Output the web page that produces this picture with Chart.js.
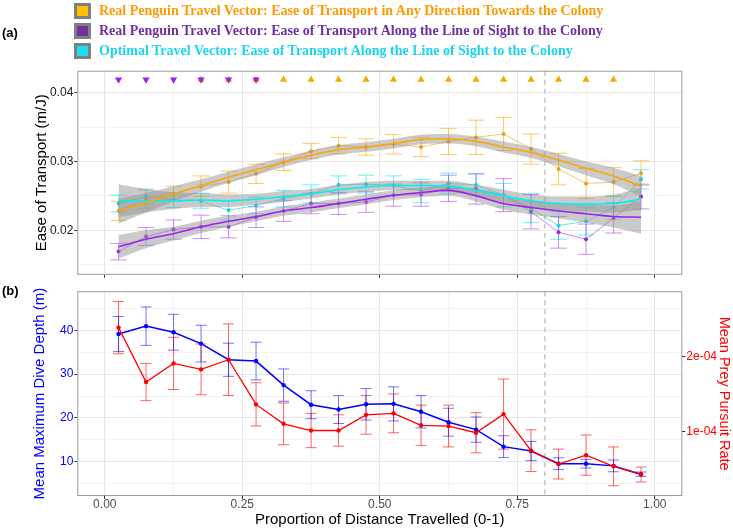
<!DOCTYPE html>
<html>
<head>
<meta charset="utf-8">
<script src="https://cdn.jsdelivr.net/npm/chart.js@4.4.1/dist/chart.umd.min.js"></script>
<style>
  body { margin: 0; background: #fff; width: 733px; height: 529px; overflow: hidden; position: relative; font-family: 'Liberation Sans', Arial, sans-serif; }
  canvas { position: absolute; left: 0; }
  #topChart { top: 0; }
  #botChart { top: 283px; }
  .tag { position: absolute; left: 2px; font-weight: bold; font-size: 13px; color: #000; z-index: 2; }
  #legend { position: absolute; left: 74px; top: 1px; z-index: 2; }
  .lg-row { display: flex; align-items: center; height: 20px; }
  .lg-box { width: 11px; height: 10px; border: 3px solid #808080; margin-right: 8px; flex: none; }
  .lg-text { font-family: 'Liberation Serif', 'Times New Roman', serif; font-weight: bold; font-size: 14px; white-space: nowrap; }
</style>
</head>
<body>
<div class="tag" style="top:25px">(a)</div>
<div class="tag" style="top:283px">(b)</div>
<div id="legend">
  <div class="lg-row"><div class="lg-box" style="background:#FFC000"></div><span class="lg-text" style="color:#FF9A00">Real Penguin Travel Vector: Ease of Transport in Any Direction Towards the Colony</span></div>
  <div class="lg-row"><div class="lg-box" style="background:#7030A0"></div><span class="lg-text" style="color:#7030A0">Real Penguin Travel Vector: Ease of Transport Along the Line of Sight to the Colony</span></div>
  <div class="lg-row"><div class="lg-box" style="background:#1ADFF5"></div><span class="lg-text" style="color:#1AD4F0">Optimal Travel Vector: Ease of Transport Along the Line of Sight to the Colony</span></div>
</div>
<canvas id="topChart" width="733" height="283"></canvas>
<canvas id="botChart" width="733" height="246"></canvas>
<script>
// bins of proportion of distance travelled
const bins = [0.025, 0.075, 0.125, 0.175, 0.225, 0.275, 0.325, 0.375, 0.425, 0.475,
              0.525, 0.575, 0.625, 0.675, 0.725, 0.775, 0.825, 0.875, 0.925, 0.975];
const cutoff = 0.8;

// (a) ease of transport, any direction towards colony
const anyDir    = [0.0228, 0.0245, 0.0253, 0.0264, 0.0270, 0.0282, 0.0299, 0.0315, 0.0323, 0.0321,
                   0.0325, 0.0321, 0.0329, 0.0335, 0.0340, 0.0318, 0.0289, 0.0268, 0.0270, 0.0283];
const anyDirErr = [0.0014, 0.0013, 0.0011, 0.0015, 0.0016, 0.0014, 0.0012, 0.0011, 0.0012, 0.0012,
                   0.0014, 0.0014, 0.0019, 0.0025, 0.0024, 0.0022, 0.0023, 0.0022, 0.0021, 0.0018];
const anyDirFit = [0.0228, 0.0240, 0.0253, 0.0265, 0.0277, 0.0288, 0.0299, 0.0309, 0.0317, 0.0321,
                   0.0326, 0.0332, 0.0333, 0.0329, 0.0321, 0.0313, 0.0302, 0.0290, 0.0279, 0.0264];
const anyDirCI  = [0.0018, 0.0014, 0.0011, 0.0009, 0.0008, 0.0008, 0.0007, 0.0007, 0.0007, 0.0007,
                   0.0007, 0.0007, 0.0007, 0.0007, 0.0008, 0.0008, 0.0009, 0.0010, 0.0012, 0.0015];

// (a) real penguin, line of sight
const losReal    = [0.0169, 0.0191, 0.0201, 0.0205, 0.0205, 0.0219, 0.0228, 0.0239, 0.0239, 0.0241,
                    0.0251, 0.0252, 0.0261, 0.0260, 0.0251, 0.0227, 0.0197, 0.0187, 0.0218, 0.0249];
const losRealErr = [0.0012, 0.0013, 0.0014, 0.0017, 0.0016, 0.0015, 0.0015, 0.0015, 0.0016, 0.0015,
                    0.0016, 0.0017, 0.0019, 0.0022, 0.0024, 0.0025, 0.0023, 0.0022, 0.0022, 0.0018];
const losRealFit = [0.0176, 0.0187, 0.0195, 0.0205, 0.0213, 0.0220, 0.0228, 0.0233, 0.0239, 0.0245,
                    0.0251, 0.0255, 0.0258, 0.0250, 0.0239, 0.0233, 0.0228, 0.0224, 0.0220, 0.0219];
const losRealCI  = [0.0017, 0.0013, 0.0010, 0.0009, 0.0008, 0.0007, 0.0007, 0.0007, 0.0007, 0.0007,
                    0.0007, 0.0007, 0.0008, 0.0008, 0.0009, 0.0010, 0.0011, 0.0013, 0.0016, 0.0024];

// (a) optimal vector, line of sight
const losOpt    = [0.0239, 0.0249, 0.0244, 0.0243, 0.0229, 0.0236, 0.0246, 0.0253, 0.0266, 0.0267,
                   0.0265, 0.0257, 0.0268, 0.0266, 0.0251, 0.0232, 0.0207, 0.0213, 0.0233, 0.0274];
const losOptErr = [0.0012, 0.0011, 0.0011, 0.0011, 0.0014, 0.0012, 0.0012, 0.0013, 0.0013, 0.0013,
                   0.0014, 0.0017, 0.0015, 0.0016, 0.0017, 0.0021, 0.0020, 0.0020, 0.0017, 0.0014];
const losOptFit = [0.0243, 0.0243, 0.0243, 0.0244, 0.0243, 0.0245, 0.0249, 0.0253, 0.0259, 0.0263,
                   0.0265, 0.0265, 0.0264, 0.0258, 0.0250, 0.0243, 0.0239, 0.0238, 0.0239, 0.0245];
const losOptCI  = [0.0024, 0.0017, 0.0012, 0.0010, 0.0009, 0.0008, 0.0008, 0.0007, 0.0007, 0.0007,
                   0.0007, 0.0007, 0.0008, 0.0008, 0.0009, 0.0009, 0.0010, 0.0011, 0.0013, 0.0016];

// significance markers along the top
const markLevel = 0.0419;
const towardsMarks = [0.175, 0.225, 0.275, 0.325, 0.375, 0.425, 0.475, 0.525, 0.575, 0.625,
                      0.675, 0.725, 0.775, 0.825, 0.875, 0.925];
const losMarks = [0.025, 0.075, 0.125, 0.175, 0.225, 0.275];

// (b) dive depth and prey pursuit
const diveDepth = [39.2, 41.0, 39.6, 37.0, 33.3, 33.0, 27.5, 23.0, 21.9, 23.1,
                   23.2, 21.4, 19.0, 17.3, 13.4, 12.4, 9.5, 9.5, 9.0, 7.1];
const diveErr   = [4.0, 4.4, 4.1, 4.2, 3.8, 4.3, 3.7, 3.2, 3.2, 3.6,
                   3.9, 3.7, 3.2, 2.9, 2.5, 2.2, 1.35, 1.0, 1.35, 0.5];
const preyRate  = [2.39e-4, 1.66e-4, 1.91e-4, 1.83e-4, 1.96e-4, 1.36e-4, 1.10e-4, 1.01e-4, 1.01e-4, 1.22e-4,
                   1.24e-4, 1.08e-4, 1.07e-4, 0.98e-4, 1.23e-4, 0.74e-4, 0.56e-4, 0.68e-4, 0.53e-4, 0.42e-4];
const preyErr   = [0.35e-4, 0.25e-4, 0.35e-4, 0.34e-4, 0.48e-4, 0.29e-4, 0.28e-4, 0.23e-4, 0.21e-4, 0.26e-4,
                   0.26e-4, 0.27e-4, 0.28e-4, 0.27e-4, 0.47e-4, 0.28e-4, 0.20e-4, 0.27e-4, 0.26e-4, 0.10e-4];

const xTicks = [0, 0.125, 0.25, 0.375, 0.5, 0.625, 0.75, 0.875, 1.0];
const yTopTicks = [0.015, 0.02, 0.025, 0.03, 0.035, 0.04];
const yDiveTicks = [5, 10, 15, 20, 25, 30, 35, 40, 45];
const yPreyTicks = [1e-4, 2e-4];

Chart.defaults.font.family = "'Liberation Sans', Arial, sans-serif";

const pts = (xs, ys) => xs.map((x, i) => ({x: x, y: ys[i]}));
const flat = (xs, v) => xs.map(x => ({x: x, y: v}));
const isMajorX = v => Math.abs(v * 4 - Math.round(v * 4)) < 1e-6;
const isMajorTop = v => Math.abs(v * 100 - Math.round(v * 100)) < 1e-6;
const gridCol = major => major ? '#E6E6E6' : '#F3F3F3';

// cut-off line, error bars and panel border
const panelExtras = {
    id: 'panelExtras',
    beforeDatasetsDraw(chart, args, opts) {
        const {ctx, chartArea: a, scales} = chart;
        const xs = scales.x;
        ctx.save();
        chart.data.datasets.forEach((ds, i) => {
            if (!ds.errors) return;
            const ys = scales[chart.getDatasetMeta(i).yAxisID];
            ctx.strokeStyle = ds.errorColor;
            ctx.lineWidth = 1;
            ds.data.forEach((p, j) => {
                const x = xs.getPixelForValue(p.x);
                const x0 = xs.getPixelForValue(p.x - opts.capWidth / 2);
                const x1 = xs.getPixelForValue(p.x + opts.capWidth / 2);
                const hi = ys.getPixelForValue(p.y + ds.errors[j]);
                const lo = ys.getPixelForValue(p.y - ds.errors[j]);
                ctx.beginPath();
                ctx.moveTo(x, hi); ctx.lineTo(x, lo);
                ctx.moveTo(x0, hi); ctx.lineTo(x1, hi);
                ctx.moveTo(x0, lo); ctx.lineTo(x1, lo);
                ctx.stroke();
            });
        });
        const px = xs.getPixelForValue(opts.cutoff);
        ctx.strokeStyle = '#CCCCCC';
        ctx.lineWidth = 1.8;
        ctx.setLineDash([5, 4]);
        ctx.beginPath();
        ctx.moveTo(px, a.top); ctx.lineTo(px, a.bottom);
        ctx.stroke();
        ctx.restore();
    },
    afterDraw(chart) {
        const {ctx, chartArea: a} = chart;
        ctx.save();
        ctx.strokeStyle = '#9A9A9A';
        ctx.lineWidth = 1;
        ctx.strokeRect(a.left + 0.5, a.top + 0.5, a.right - a.left - 1, a.bottom - a.top - 1);
        ctx.restore();
    }
};

const xScale = (showLabels, h) => ({
    type: 'linear', min: -0.05, max: 1.05,
    afterBuildTicks: s => { s.ticks = xTicks.map(v => ({value: v})); },
    afterFit: s => { s.height = h; },
    border: {display: false},
    grid: {
        color: c => gridCol(isMajorX(c.tick.value)),
        tickColor: c => isMajorX(c.tick.value) ? '#333' : 'rgba(0,0,0,0)',
        tickLength: 3
    },
    ticks: {
        display: showLabels, color: '#4D4D4D', font: {size: 12}, padding: -2, maxRotation: 0,
        callback: v => isMajorX(v) ? v.toFixed(2) : ''
    },
    title: {display: showLabels, text: 'Proportion of Distance Travelled (0-1)', color: '#000',
            font: {size: 15}, padding: {top: 0, bottom: 0}}
});

const band = (fit, ci, sign) => pts(bins, fit.map((v, i) => v + sign * ci[i]));
const bandGrey = 'rgba(150,150,150,0.5)';

// (a) top panel
new Chart(document.getElementById('topChart'), {
    type: 'line',
    data: {
        datasets: [
            {data: flat(losMarks, markLevel), showLine: false, pointStyle: 'triangle', pointRotation: 180,
             pointRadius: 4.2, pointBackgroundColor: '#A020F0', pointBorderWidth: 0},
            {data: flat(towardsMarks, markLevel), showLine: false, pointStyle: 'triangle',
             pointRadius: 4.2, pointBackgroundColor: '#FFA500', pointBorderWidth: 0},

            {data: pts(bins, anyDirFit), borderColor: '#FFA500', borderWidth: 1.6, pointRadius: 0, cubicInterpolationMode: 'monotone'},
            {data: pts(bins, losOptFit), borderColor: '#00F0F0', borderWidth: 1.6, pointRadius: 0, cubicInterpolationMode: 'monotone'},
            {data: pts(bins, losRealFit), borderColor: '#A020F0', borderWidth: 1.6, pointRadius: 0, cubicInterpolationMode: 'monotone'},

            {data: band(anyDirFit, anyDirCI, 1), borderWidth: 0, pointRadius: 0, fill: false, cubicInterpolationMode: 'monotone'},
            {data: band(anyDirFit, anyDirCI, -1), borderWidth: 0, pointRadius: 0, fill: '-1', backgroundColor: bandGrey, cubicInterpolationMode: 'monotone'},
            {data: band(losOptFit, losOptCI, 1), borderWidth: 0, pointRadius: 0, fill: false, cubicInterpolationMode: 'monotone'},
            {data: band(losOptFit, losOptCI, -1), borderWidth: 0, pointRadius: 0, fill: '-1', backgroundColor: bandGrey, cubicInterpolationMode: 'monotone'},
            {data: band(losRealFit, losRealCI, 1), borderWidth: 0, pointRadius: 0, fill: false, cubicInterpolationMode: 'monotone'},
            {data: band(losRealFit, losRealCI, -1), borderWidth: 0, pointRadius: 0, fill: '-1', backgroundColor: bandGrey, cubicInterpolationMode: 'monotone'},

            {data: pts(bins, anyDir), errors: anyDirErr, errorColor: 'rgba(255,165,0,0.6)',
             borderColor: 'rgba(240,160,30,0.8)', borderWidth: 0.8, pointRadius: 2, pointBackgroundColor: '#E8A020', pointBorderWidth: 0},
            {data: pts(bins, losOpt), errors: losOptErr, errorColor: 'rgba(0,235,240,0.6)',
             borderColor: 'rgba(0,220,225,0.8)', borderWidth: 0.8, pointRadius: 2, pointBackgroundColor: '#20D0D8', pointBorderWidth: 0},
            {data: pts(bins, losReal), errors: losRealErr, errorColor: 'rgba(160,32,240,0.5)',
             borderColor: 'rgba(160,32,240,0.7)', borderWidth: 0.8, pointRadius: 2, pointBackgroundColor: '#9030D0', pointBorderWidth: 0}
        ]
    },
    options: {
        responsive: false,
        animation: false,
        layout: {padding: {top: 70.7, right: 50.7, left: 0, bottom: 0}},
        plugins: {legend: {display: false}, tooltip: {enabled: false},
                  panelExtras: {cutoff: cutoff, capWidth: 0.03}},
        scales: {
            x: xScale(false, 4.7),
            y: {
                min: 0.01353, max: 0.04319,
                afterBuildTicks: s => { s.ticks = yTopTicks.map(v => ({value: v})); },
                afterFit: s => { s.width = 77.3; },
                border: {display: false},
                grid: {
                    color: c => gridCol(isMajorTop(c.tick.value)),
                    tickColor: c => isMajorTop(c.tick.value) ? '#333' : 'rgba(0,0,0,0)',
                    tickLength: 3
                },
                ticks: {
                    color: '#1A1A1A', font: {size: 12}, padding: 1,
                    callback: v => isMajorTop(v) ? v.toFixed(2) : ''
                },
                title: {display: true, text: 'Ease of Transport (m/J)', color: '#000', font: {size: 15},
                        padding: {top: 32.7, bottom: 0}}
            }
        }
    },
    plugins: [panelExtras]
});

// (b) bottom panel
new Chart(document.getElementById('botChart'), {
    type: 'line',
    data: {
        datasets: [
            {data: pts(bins, preyRate), yAxisID: 'y2', errors: preyErr, errorColor: 'rgba(255,0,0,0.6)',
             borderColor: '#FF0000', borderWidth: 1.3, pointRadius: 2.2, pointBackgroundColor: '#FF0000', pointBorderWidth: 0},
            {data: pts(bins, diveDepth), yAxisID: 'y', errors: diveErr, errorColor: 'rgba(0,0,255,0.55)',
             borderColor: '#0000FF', borderWidth: 1.5, pointRadius: 2.2, pointBackgroundColor: '#0000FF', pointBorderWidth: 0}
        ]
    },
    options: {
        responsive: false,
        animation: false,
        layout: {padding: {top: 4.3, right: 0, left: 0, bottom: 0}},
        plugins: {legend: {display: false}, tooltip: {enabled: false},
                  panelExtras: {cutoff: cutoff, capWidth: 0.02}},
        scales: {
            x: xScale(true, 33),
            y: {
                position: 'left', min: 2.1, max: 49.0,
                afterBuildTicks: s => { s.ticks = yDiveTicks.map(v => ({value: v})); },
                afterFit: s => { s.width = 77.3; },
                border: {display: false},
                grid: {
                    color: c => gridCol(c.tick.value % 10 === 0),
                    tickColor: c => c.tick.value % 10 === 0 ? '#333' : 'rgba(0,0,0,0)',
                    tickLength: 3
                },
                ticks: {color: '#0000FF', font: {size: 12}, padding: 1,
                        callback: v => v % 10 === 0 ? String(v) : ''},
                title: {display: true, text: 'Mean Maximum Dive Depth (m)', color: '#0000FF', font: {size: 15},
                        padding: {top: 31, bottom: 0}}
            },
            y2: {
                position: 'right', min: 0.132e-4, max: 2.878e-4,
                afterBuildTicks: s => { s.ticks = yPreyTicks.map(v => ({value: v})); },
                afterFit: s => { s.width = 50.7; },
                border: {display: false},
                grid: {drawOnChartArea: false, tickColor: '#333', tickLength: 3},
                ticks: {color: '#FF0000', font: {size: 12}, padding: 1,
                        callback: v => (v * 1e4).toFixed(0) + 'e-04'},
                title: {display: true, text: 'Mean Prey Pursuit Rate', color: '#FF0000', font: {size: 14.5},
                        padding: {top: 0, bottom: 0}}
            }
        }
    },
    plugins: [panelExtras]
});
</script>
</body>
</html>
